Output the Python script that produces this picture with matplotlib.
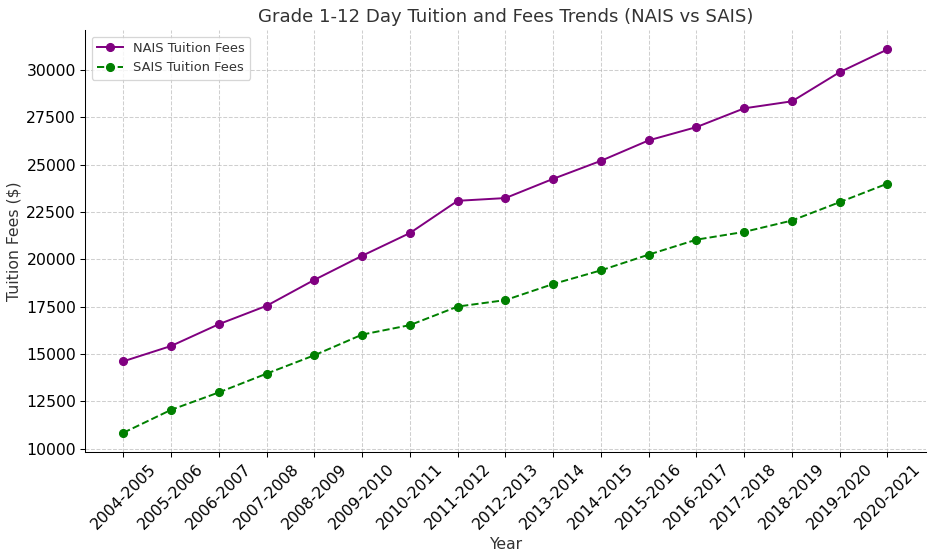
import matplotlib.pyplot as plt

years = ["2004-2005", "2005-2006", "2006-2007", "2007-2008", "2008-2009",
         "2009-2010", "2010-2011", "2011-2012", "2012-2013", "2013-2014",
         "2014-2015", "2015-2016", "2016-2017", "2017-2018", "2018-2019",
         "2019-2020", "2020-2021"]
nais_fees = [14620, 15430, 16580, 17550, 18920, 20190, 21390, 23090, 23235,
             24250, 25200, 26280, 26980, 27970, 28340, 29880, 31080]
sais_fees = [10850, 12060, 12980, 13970, 14940, 16030, 16530, 17510, 17850,
             18700, 19420, 20250, 21040, 21450, 22050, 23020, 24000]

plt.rcParams['text.color'] = '#333333'
plt.rcParams['axes.labelcolor'] = '#333333'

fig, ax = plt.subplots(figsize=(10, 5.983), dpi=93.6)
ax.plot(years, nais_fees, marker='o', linestyle='-', color='purple',
        label='NAIS Tuition Fees')
ax.plot(years, sais_fees, marker='o', linestyle='--', color='green',
        label='SAIS Tuition Fees')

ax.set_title("Grade 1-12 Day Tuition and Fees Trends (NAIS vs SAIS)", fontsize=14)
ax.set_xlabel("Year", fontsize=12)
ax.set_ylabel("Tuition Fees ($)", fontsize=12)
ax.tick_params(axis='both', labelsize=12)
plt.setp(ax.get_xticklabels(), rotation=45)
ax.grid(True, linestyle='--', alpha=0.6)
ax.spines['top'].set_visible(False)
ax.spines['right'].set_visible(False)
ax.legend(loc='upper left')

fig.subplots_adjust(left=0.091, right=0.989, top=0.946, bottom=0.193)
plt.savefig('out.png')
